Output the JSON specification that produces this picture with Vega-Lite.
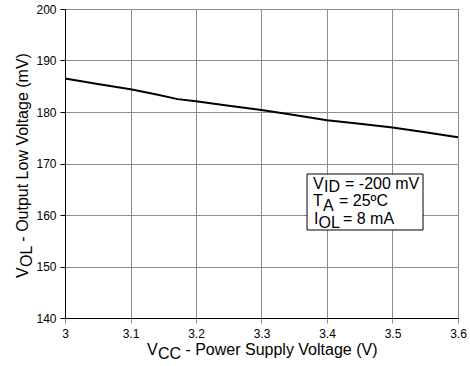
{
  "$schema": "https://vega.github.io/schema/vega-lite/v6.json",
  "autosize": "none",
  "width": 393,
  "height": 309,
  "padding": {"left": 65, "top": 9, "right": 12, "bottom": 48},
  "background": "white",
  "config": {
    "font": "Liberation Sans",
    "view": {"stroke": "#222", "strokeWidth": 1},
    "axis": {
      "gridColor": "#8c8c8c",
      "gridWidth": 1,
      "gridOpacity": 1,
      "domainColor": "black",
      "labelColor": "black",
      "labelFontSize": 12
    },
    "text": {"font": "Liberation Sans", "fontSize": 16, "color": "black", "align": "left", "baseline": "alphabetic"}
  },
  "datasets": {
    "curve": [
      {"vcc": 3.0, "vol": 186.5},
      {"vcc": 3.05, "vol": 185.45},
      {"vcc": 3.1, "vol": 184.4},
      {"vcc": 3.14, "vol": 183.4},
      {"vcc": 3.172, "vol": 182.5},
      {"vcc": 3.2, "vol": 182.1},
      {"vcc": 3.25, "vol": 181.2},
      {"vcc": 3.3, "vol": 180.4},
      {"vcc": 3.35, "vol": 179.4},
      {"vcc": 3.4, "vol": 178.4},
      {"vcc": 3.45, "vol": 177.7},
      {"vcc": 3.5, "vol": 177.0},
      {"vcc": 3.55, "vol": 176.05},
      {"vcc": 3.6, "vol": 175.1}
    ],
    "box": [
      {"x1": 3.3695, "x2": 3.5466, "y1": 167.96, "y2": 157.09}
    ],
    "boxText": [
      {"t": "V", "x": 3.3786, "y": 165.11},
      {"t": "ID", "x": 3.3954, "y": 164.47},
      {"t": "= -200 mV", "x": 3.4275, "y": 165.11},
      {"t": "T", "x": 3.3786, "y": 161.69},
      {"t": "A", "x": 3.3939, "y": 160.87},
      {"t": "= 25ºC", "x": 3.4183, "y": 161.69},
      {"t": "I", "x": 3.3802, "y": 158.25},
      {"t": "OL", "x": 3.3870, "y": 157.48},
      {"t": "= 8 mA", "x": 3.4244, "y": 158.25}
    ],
    "xTitle": [
      {"t": "V", "x": 3.1252, "y": 132.82},
      {"t": "CC", "x": 3.142, "y": 132.04},
      {"t": "- Power Supply Voltage (V)", "x": 3.1838, "y": 132.82}
    ],
    "yTitle": [
      {"t": "V", "x": 2.9435, "y": 147.77},
      {"t": "OL", "x": 2.9496, "y": 149.9},
      {"t": "- Output Low Voltage (mV)", "x": 2.9435, "y": 154.83}
    ]
  },
  "layer": [
    {
      "data": {"name": "curve"},
      "mark": {"type": "line", "color": "black", "strokeWidth": 2},
      "encoding": {
        "x": {
          "field": "vcc", "type": "quantitative",
          "scale": {"domain": [3, 3.6], "nice": false, "zero": false},
          "axis": {
            "title": null,
            "values": [3, 3.1, 3.2, 3.3, 3.4, 3.5, 3.6],
            "format": "~g",
            "labelFlush": false,
            "tickColor": "#8c8c8c",
            "tickSize": 5,
            "labelPadding": 5
          }
        },
        "y": {
          "field": "vol", "type": "quantitative",
          "scale": {"domain": [140, 200], "nice": false, "zero": false},
          "axis": {
            "title": null,
            "values": [140, 150, 160, 170, 180, 190, 200],
            "tickColor": "black",
            "tickSize": 5,
            "labelPadding": 4
          }
        }
      }
    },
    {
      "data": {"name": "box"},
      "mark": {"type": "rect", "fill": "white", "stroke": "black", "strokeWidth": 1},
      "encoding": {
        "x": {"field": "x1", "type": "quantitative"},
        "x2": {"field": "x2"},
        "y": {"field": "y1", "type": "quantitative"},
        "y2": {"field": "y2"}
      }
    },
    {
      "data": {"name": "boxText"},
      "mark": {"type": "text"},
      "encoding": {
        "x": {"field": "x", "type": "quantitative"},
        "y": {"field": "y", "type": "quantitative"},
        "text": {"field": "t"}
      }
    },
    {
      "data": {"name": "xTitle"},
      "mark": {"type": "text"},
      "encoding": {
        "x": {"field": "x", "type": "quantitative"},
        "y": {"field": "y", "type": "quantitative"},
        "text": {"field": "t"}
      }
    },
    {
      "data": {"name": "yTitle"},
      "mark": {"type": "text", "angle": 270},
      "encoding": {
        "x": {"field": "x", "type": "quantitative"},
        "y": {"field": "y", "type": "quantitative"},
        "text": {"field": "t"}
      }
    }
  ]
}
